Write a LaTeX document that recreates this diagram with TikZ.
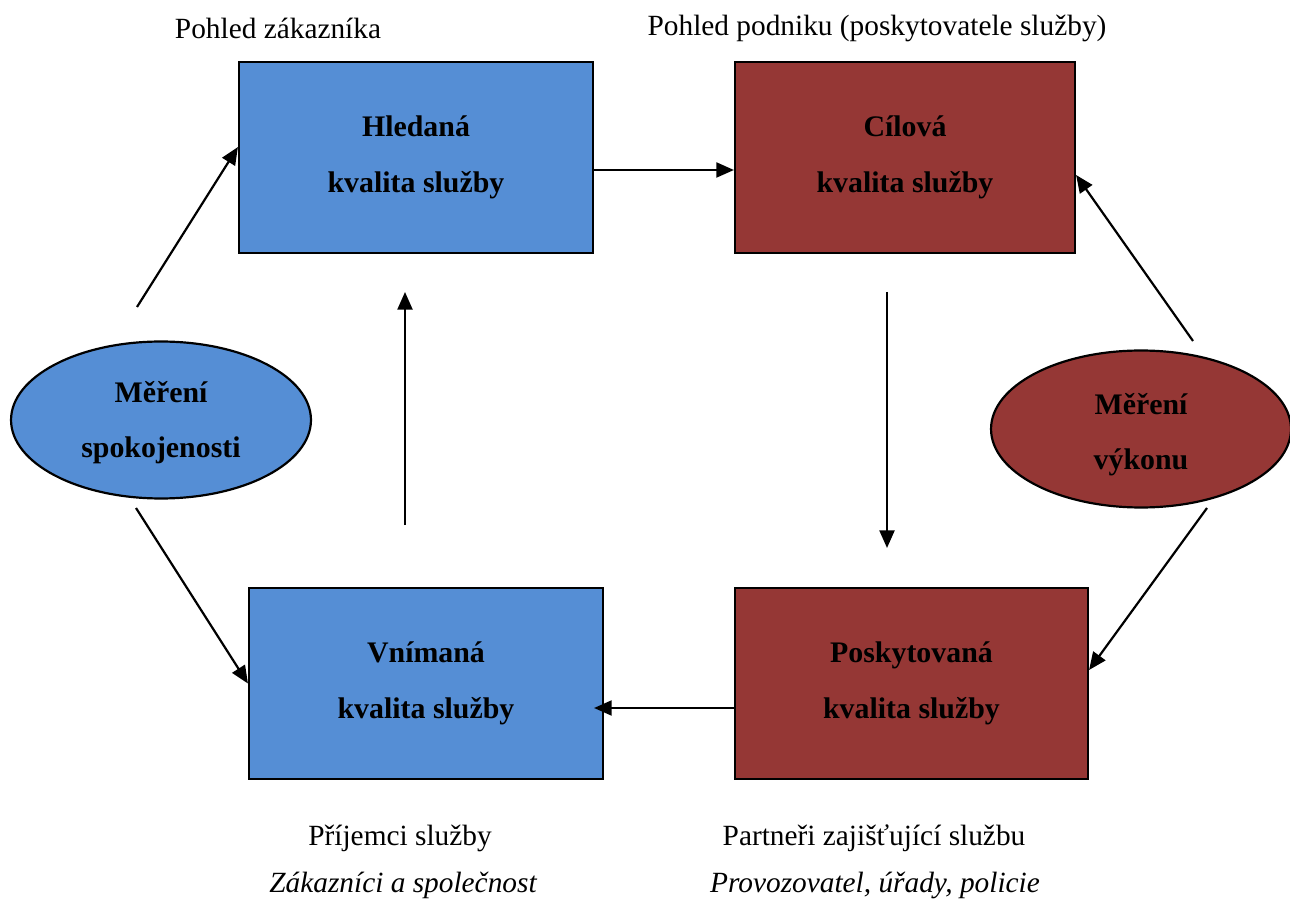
\documentclass[tikz,border=0pt]{standalone}
\usepackage{fontspec}
\setmainfont{Liberation Serif}
\usetikzlibrary{shapes.geometric,arrows.meta,calc}
\definecolor{cblue}{RGB}{85,142,213}
\definecolor{cred}{RGB}{149,55,53}
\begin{document}
\begin{tikzpicture}[x=0.02cm,y=0.02cm,
 box/.style={draw=black,line width=1.25pt,rectangle,minimum height=3.82cm,align=center,inner sep=0pt,font=\fontsize{17}{31.7}\selectfont\bfseries},
 ell/.style={draw=black,line width=1.25pt,ellipse,minimum width=6cm,minimum height=3.14cm,inner sep=0pt},
 elltext/.style={align=center,inner sep=0pt,font=\fontsize{17}{31.4}\selectfont\bfseries},
 arr/.style={line width=1.25pt,-{Triangle[length=10pt,width=8.5pt]}},
 lbl/.style={font=\fontsize{16.7}{20}\selectfont,inner sep=0pt}]
\useasboundingbox (0,0) rectangle (1290,-901);
% boxes
\node[box,fill=cblue,minimum width=7.08cm] (hled) at (416,-157.5) {Hledaná\\kvalita služby};
\node[box,fill=cred,minimum width=6.8cm] (cil) at (905,-157.5) {Cílová\\kvalita služby};
\node[box,fill=cblue,minimum width=7.08cm] (vnim) at (426,-683.5) {Vnímaná\\kvalita služby};
\node[box,fill=cred,minimum width=7.06cm] (posk) at (911.5,-683.5) {Poskytovaná\\kvalita služby};
% ellipses
\node[ell,fill=cblue] (spok) at (161,-420) {};
\node[elltext] (spokt) at (161,-423) {Měření\\spokojenosti};
\node[ell,fill=cred] (vyk) at (1141,-429) {};
\node[elltext] (vykt) at (1141,-435) {Měření\\výkonu};
% labels
\node[lbl] (t1) at (278,-28) {Pohled zákazníka};
\node[lbl] (t2) at (877,-28) {Pohled podniku (poskytovatele služby)};
\node[lbl] (b1) at (400,-838) {Příjemci služby};
\node[lbl] (b2) at (403,-885) {\itshape Zákazníci a společnost};
\node[lbl] (b3) at (874,-838) {Partneři zajišťující službu};
\node[lbl] (b4) at (875,-885) {\itshape Provozovatel, úřady, policie};
% free arrow ends
\coordinate (s1) at (137,-307);
\coordinate (s2) at (1193,-341);
\coordinate (s3) at (887,-292);
\coordinate (e3) at (887,-548);
\coordinate (s4) at (1207,-508);
\coordinate (s5) at (405,-525);
\coordinate (e5) at (405,-292);
\coordinate (s6) at (136,-508);
% arrows
\draw[arr] (s1) -- ([yshift=0.21cm]hled.west);
\draw[arr] ([yshift=-0.25cm]hled.east) -- ([yshift=-0.25cm]cil.west);
\draw[arr] (s2) -- ([yshift=-0.35cm]cil.east);
\draw[arr] (s3) -- (e3);
\draw[arr] (s4) -- ([yshift=0.27cm]posk.east);
\draw[arr] ([yshift=-0.49cm]posk.west) -- ([xshift=-0.2cm,yshift=-0.49cm]vnim.east);
\draw[arr] (s5) -- (e5);
\draw[arr] (s6) -- (vnim.west);
\end{tikzpicture}
\end{document}
